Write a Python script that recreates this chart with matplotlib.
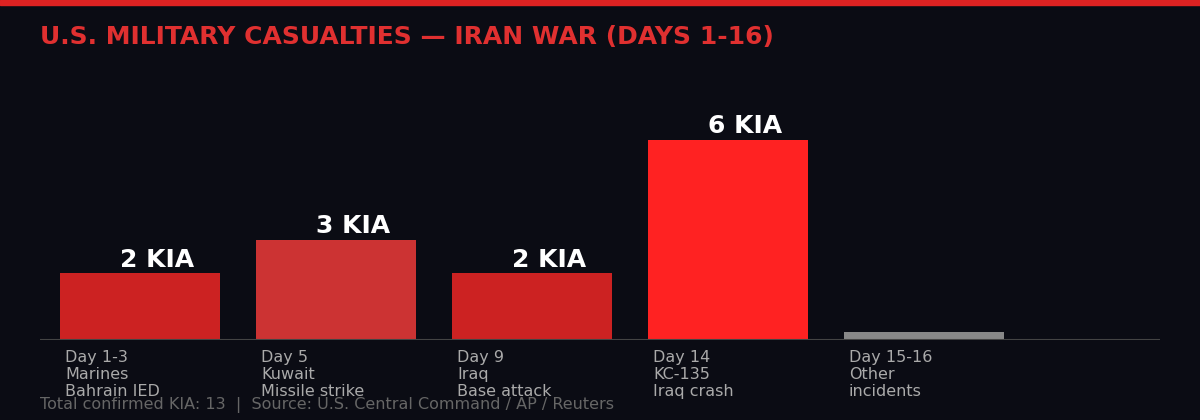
import matplotlib.pyplot as plt
from matplotlib.patches import Rectangle

# data
periods = ["Day 1-3\nMarines\nBahrain IED", "Day 5\nKuwait\nMissile strike",
           "Day 9\nIraq\nBase attack", "Day 14\nKC-135\nIraq crash",
           "Day 15-16\nOther\nincidents"]
kia = [2, 3, 2, 6, 0.25]
value_labels = ["2 KIA", "3 KIA", "2 KIA", "6 KIA", ""]
colors = ["#cc2222", "#cc3333", "#cc2222", "#ff2222", "#888888"]

bg = "#0b0c14"
fig = plt.figure(figsize=(12, 4.2), dpi=100, facecolor=bg)
fig.patches.append(Rectangle((0, 1 - 5 / 420), 1, 5 / 420, transform=fig.transFigure,
                             color="#dd2222", zorder=10))

ax = fig.add_axes([40 / 1200, 80 / 420, 1120 / 1200, 280 / 420])
ax.set_facecolor(bg)
x = range(len(kia))
ax.bar(x, kia, width=160 / 196, color=colors)
for i, (v, lab) in enumerate(zip(kia, value_labels)):
    if lab:
        ax.text(i - 0.1, v + 0.05, lab, ha="left", va="bottom", color="white",
                fontsize=18, fontweight="bold")
ax.set_xlim(-100 / 196, 1020 / 196)
ax.set_ylim(0, 8.4)
ax.set_xticks([])
ax.set_yticks([])
for s in ax.spines.values():
    s.set_visible(False)
ax.axhline(0, color="#444444", lw=1.5)
for i, p in enumerate(periods):
    ax.text(i - 75 / 196, -0.3, p, ha="left", va="top", color="#aaaaaa",
            fontsize=11.5, linespacing=1.15)

fig.text(40 / 1200, 1 - 37 / 420, "U.S. MILITARY CASUALTIES — IRAN WAR (DAYS 1-16)",
         color="#e03030", fontsize=18, fontweight="bold", va="center")
fig.text(40 / 1200, 1 - 405 / 420, "Total confirmed KIA: 13  |  Source: U.S. Central Command / AP / Reuters",
         color="#666666", fontsize=11.5, va="center")

fig.savefig("out.png", facecolor=bg)
